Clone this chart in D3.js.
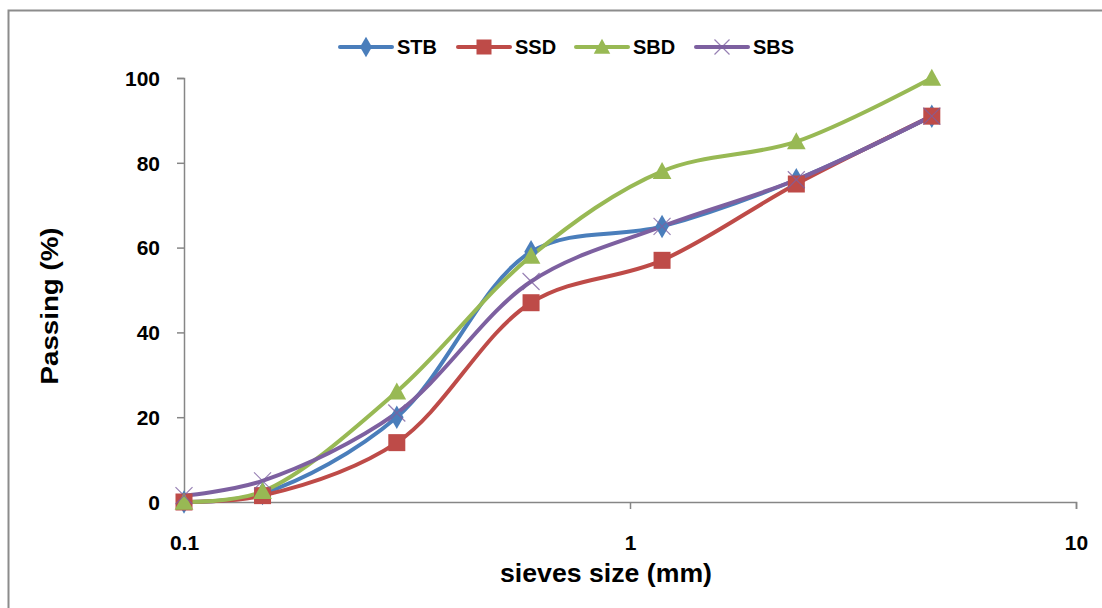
<!DOCTYPE html>
<html>
<head>
<meta charset="utf-8">
<script src="https://cdn.jsdelivr.net/npm/d3@7"></script>
<style>
  body { margin: 0; background: #fff; }
  text { font-family: "Liberation Sans", Arial, sans-serif; font-weight: bold; }
</style>
</head>
<body>
<div id="container"></div>
<script>
/* DATA */
const sieves = [0.1, 0.15, 0.3, 0.6, 1.18, 2.36, 4.75];
const stb = [0, 2, 20, 59, 65, 76, 91];
const ssd = [0, 1.5, 14, 47, 57, 75, 91];
const sbd = [0, 2.5, 26, 58, 78, 85, 100];
const sbs = [1.5, 5, 21, 52, 65, 76, 91];
const seriesNames = ["STB", "SSD", "SBD", "SBS"];
const yTicks = [0, 20, 40, 60, 80, 100];
const xTicks = [0.1, 1, 10];

/* CONSTANTS */
const width = 1102, height = 608;
const colors = { STB: "#4a7ebb", SSD: "#be4b48", SBD: "#98b954", SBS: "#7d60a0" };
const markers = { STB: "diamond", SSD: "square", SBD: "triangle", SBS: "cross" };

const series = [
  { name: "STB", values: stb },
  { name: "SSD", values: ssd },
  { name: "SBD", values: sbd },
  { name: "SBS", values: sbs },
];

const svg = d3.select("#container")
  .append("svg")
  .attr("width", width)
  .attr("height", height);

// outer chart border
svg.append("rect")
  .attr("x", 8.5).attr("y", 10.5)
  .attr("width", 1100).attr("height", 610)
  .attr("fill", "none")
  .attr("stroke", "#8c8c8c")
  .attr("stroke-width", 2);

// SCALES
const x = d3.scaleLog().domain([0.1, 10]).range([184, 1076]);
const y = d3.scaleLinear().domain([0, 100]).range([502, 78]);

// AXES
const yAxis = svg.append("g")
  .attr("transform", "translate(184,0)")
  .call(d3.axisLeft(y).tickValues(yTicks).tickSizeOuter(0).tickSize(7).tickPadding(17));
const xAxis = svg.append("g")
  .attr("transform", "translate(0,502)")
  .call(d3.axisBottom(x).tickValues(xTicks).tickFormat(d => d).tickSizeOuter(0).tickSize(7).tickPadding(30));

[yAxis, xAxis].forEach(g => {
  g.select(".domain").attr("stroke", "#868686").attr("stroke-width", 1.5);
  g.selectAll(".tick line").attr("stroke", "#868686").attr("stroke-width", 1.5);
  g.selectAll(".tick text").attr("fill", "#000").style("font-size", "21px").style("font-family", "Liberation Sans, Arial, sans-serif");
});
yAxis.selectAll(".tick text").attr("dy", "0.35em");
xAxis.selectAll(".tick text").attr("dy", "0.5em");

// AXIS TITLES
svg.append("text")
  .attr("x", 606).attr("y", 582)
  .attr("text-anchor", "middle")
  .attr("textLength", 212)
  .attr("lengthAdjust", "spacingAndGlyphs")
  .style("font-size", "25px")
  .text("sieves size (mm)");

svg.append("text")
  .attr("transform", "translate(58,306) rotate(-90)")
  .attr("text-anchor", "middle")
  .attr("textLength", 157)
  .attr("lengthAdjust", "spacingAndGlyphs")
  .style("font-size", "23px")
  .text("Passing (%)");

// LINES
const line = d3.line()
  .x((d, i) => x(sieves[i]))
  .y(d => y(d))
  .curve(d3.curveCatmullRom.alpha(0.5));

svg.selectAll("path.series")
  .data(series)
  .join("path")
  .attr("class", "series")
  .attr("d", d => line(d.values))
  .attr("fill", "none")
  .attr("stroke", d => colors[d.name])
  .attr("stroke-width", 4)
  .attr("stroke-linecap", "round");

// MARKERS
function drawMarker(g, type, color, size) {
  if (type === "diamond") {
    g.append("path").attr("d", d3.symbol(d3.symbolDiamond, size * size * 0.55)())
      .attr("fill", color);
  } else if (type === "square") {
    g.append("rect").attr("x", -size / 2).attr("y", -size / 2)
      .attr("width", size).attr("height", size).attr("fill", color);
  } else if (type === "triangle") {
    g.append("path").attr("d", `M0,${-size * 0.55}L${size * 0.55},${size * 0.45}L${-size * 0.55},${size * 0.45}Z`)
      .attr("fill", color);
  } else {
    const s = size / 2;
    g.append("path").attr("d", `M${-s},${-s}L${s},${s}M${-s},${s}L${s},${-s}`)
      .attr("stroke", color).attr("stroke-width", 1.2).attr("stroke-opacity", 0.8);
  }
}

series.forEach(s => {
  s.values.forEach((v, i) => {
    const g = svg.append("g").attr("transform", `translate(${x(sieves[i])},${y(v)})`);
    drawMarker(g, markers[s.name], colors[s.name], 17);
  });
});

// LEGEND
const legendX = [340, 458, 576, 696];
seriesNames.forEach((name, i) => {
  const lg = svg.append("g").attr("transform", `translate(${legendX[i]},47)`);
  lg.append("line").attr("x1", 0).attr("x2", 52).attr("y1", 0).attr("y2", 0)
    .attr("stroke", colors[name]).attr("stroke-width", 4).attr("stroke-linecap", "round");
  const mg = lg.append("g").attr("transform", "translate(26,0)");
  drawMarker(mg, markers[name], colors[name], 15);
  lg.append("text").attr("x", 57).attr("y", 0).attr("dy", "0.36em")
    .style("font-size", "20px").text(name);
});
</script>
</body>
</html>
